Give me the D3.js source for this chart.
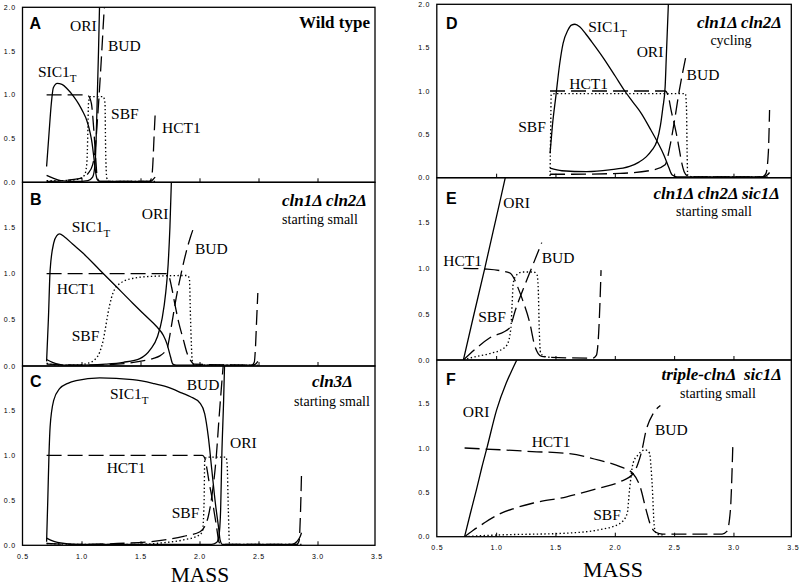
<!DOCTYPE html>
<html><head><meta charset="utf-8">
<script src="https://cdn.jsdelivr.net/npm/d3@7"></script>
<style>body{margin:0;background:#fff} svg{display:block} text{fill:#000}</style>
</head><body><svg id="c" width="800" height="587"></svg>
<script>
// ---------------- DATA ----------------
const massTicks = [0.5, 1.0, 1.5, 2.0, 2.5, 3.0, 3.5];
const valueTicksTop = [0, 0.5, 1.0, 1.5, 2.0];
const valueTicks = [0, 0.5, 1.0, 1.5];
const panelLetters = ["A", "B", "C", "D", "E", "F"];
const panelTitles = ["Wild type", "cln1Δ cln2Δ", "cln3Δ", "cln1Δ cln2Δ", "cln1Δ cln2Δ sic1Δ", "triple-clnΔ  sic1Δ"];
const panelSubtitles = ["", "starting small", "starting small", "cycling", "starting small", "starting small"];

// Panel A: wild type  [mass, value]
const sic1A = [[0.70,0.18],[0.72,0.55],[0.74,0.9],[0.757,1.08],[0.79,1.13],[0.83,1.12],[0.88,1.06],[0.93,0.98],[0.97,0.90],[1.01,0.80],[1.04,0.71],[1.07,0.56],[1.085,0.45],[1.10,0.29],[1.115,0.12],[1.13,0.03],[1.15,0.01],[1.58,0.01],[1.60,0.03],[1.62,0.06]];
const oriA = [[0.70,0.08],[0.75,0.05],[0.82,0.02],[0.95,0.01],[1.05,0.02],[1.09,0.06],[1.11,0.2],[1.12,0.5],[1.13,1.0],[1.14,1.5],[1.15,2.1]];
const hct1A = [[0.70,1.0],[1.04,1.0],[1.06,0.98],[1.08,0.9],[1.10,0.6],[1.115,0.3],[1.13,0.05],[1.15,0.01],[1.57,0.01],[1.59,0.05],[1.60,0.2],[1.61,0.5],[1.62,0.78]];
const budA = [[0.70,0.01],[0.85,0.02],[1.0,0.05],[1.05,0.1],[1.09,0.2],[1.11,0.35],[1.13,0.7],[1.15,1.1],[1.17,1.55],[1.19,2.0],[1.20,2.1]];
const sbfA = [[0.70,0.02],[0.85,0.02],[0.98,0.04],[1.02,0.08],[1.04,0.2],[1.05,0.6],[1.055,0.9],[1.07,0.98],[1.18,0.98],[1.195,0.9],[1.20,0.4],[1.21,0.05],[1.23,0.01],[1.62,0.01]];
const labelsA = [["ORI",0.898,1.79],["BUD",1.22,1.56],["SIC1",0.627,1.27],["SBF",1.246,0.79],["HCT1",1.678,0.63]];

// Panel B: cln1Δ cln2Δ starting small
const sic1B = [[0.70,0.05],[0.715,0.5],[0.73,1.04],[0.76,1.33],[0.785,1.41],[0.81,1.43],[0.85,1.40],[0.92,1.32],[1.01,1.22],[1.15,1.04],[1.29,0.86],[1.43,0.68],[1.55,0.53],[1.63,0.43],[1.69,0.33],[1.72,0.24],[1.75,0.10],[1.77,0.02],[1.80,0.01],[2.44,0.01],[2.47,0.02],[2.49,0.05]];
const oriB = [[0.70,0.07],[0.75,0.04],[0.85,0.01],[1.0,0.01],[1.2,0.02],[1.35,0.04],[1.49,0.08],[1.58,0.18],[1.64,0.32],[1.68,0.52],[1.71,0.8],[1.73,1.1],[1.745,1.5],[1.76,2.1]];
const hct1B = [[0.70,1.0],[1.72,1.0],[1.74,0.96],[1.76,0.85],[1.79,0.65],[1.82,0.47],[1.86,0.28],[1.89,0.14],[1.92,0.06],[1.95,0.02],[2.44,0.01],[2.46,0.04],[2.47,0.2],[2.48,0.5],[2.49,0.79]];
const budB = [[0.70,0.02],[1.0,0.01],[1.3,0.02],[1.49,0.05],[1.6,0.08],[1.66,0.11],[1.70,0.15],[1.72,0.18],[1.74,0.3],[1.76,0.45],[1.80,0.75],[1.84,1.0],[1.88,1.22],[1.92,1.4],[1.95,1.51]];
const sbfB = [[0.70,0.03],[0.80,0.01],[0.95,0.01],[1.05,0.03],[1.10,0.06],[1.15,0.15],[1.18,0.28],[1.20,0.42],[1.22,0.57],[1.25,0.74],[1.28,0.84],[1.33,0.9],[1.40,0.94],[1.58,0.97],[1.89,0.98],[1.91,0.95],[1.92,0.5],[1.935,0.05],[1.95,0.01],[2.49,0.01]];
const labelsB = [["ORI",1.506,1.654],["SIC1",0.913,1.506],["BUD",1.958,1.276],["HCT1",0.786,0.843],["SBF",0.913,0.335]];

// Panel C: cln3Δ starting small
const sic1C = [[0.70,0.04],[0.71,0.5],[0.72,1.0],[0.73,1.32],[0.76,1.61],[0.81,1.74],[0.88,1.80],[0.95,1.83],[1.15,1.86],[1.43,1.84],[1.60,1.80],[1.72,1.76],[1.85,1.69],[1.92,1.65],[2.0,1.58],[2.04,1.46],[2.07,1.21],[2.10,0.84],[2.13,0.47],[2.16,0.17],[2.17,0.06],[2.19,0.01],[2.78,0.01],[2.82,0.04],[2.85,0.1],[2.86,0.14]];
const oriC = [[0.70,0.08],[0.75,0.05],[0.85,0.02],[0.95,0.01],[2.0,0.01],[2.10,0.01],[2.14,0.03],[2.16,0.1],[2.175,0.4],[2.185,1.0],[2.20,1.6],[2.21,2.1]];
const hct1C = [[0.70,1.0],[2.02,1.0],[2.04,0.97],[2.06,0.84],[2.08,0.68],[2.10,0.54],[2.12,0.37],[2.14,0.21],[2.16,0.04],[2.18,0.01],[2.82,0.01],[2.84,0.05],[2.85,0.3],[2.86,0.78]];
const budC = [[0.70,0.02],[1.0,0.01],[1.3,0.02],[1.58,0.04],[1.86,0.10],[2.0,0.15],[2.04,0.21],[2.07,0.32],[2.10,0.54],[2.14,1.02],[2.16,1.39],[2.18,1.73],[2.20,2.05]];
const sbfC = [[0.70,0.02],[1.0,0.01],[1.43,0.01],[1.7,0.03],[1.86,0.06],[1.99,0.11],[2.02,0.15],[2.035,0.5],[2.04,0.95],[2.06,0.98],[2.22,0.98],[2.23,0.9],[2.24,0.4],[2.25,0.02],[2.28,0.01],[2.86,0.01]];
const labelsC = [["BUD",1.887,1.79],["SIC1",1.237,1.69],["ORI",2.254,1.137],["HCT1",1.209,0.87],["SBF",1.76,0.36]];

// Panel D: cln1Δ cln2Δ cycling
const sic1D = [[1.45,0.28],[1.47,0.6],[1.50,0.95],[1.53,1.3],[1.56,1.55],[1.60,1.70],[1.63,1.76],[1.66,1.77],[1.70,1.74],[1.75,1.66],[1.80,1.57],[1.90,1.38],[2.0,1.17],[2.08,1.0],[2.15,0.87],[2.22,0.74],[2.30,0.55],[2.36,0.40],[2.41,0.26],[2.45,0.12],[2.48,0.03],[2.52,0.01],[3.25,0.01],[3.28,0.03],[3.30,0.06]];
const oriD = [[1.45,0.11],[1.55,0.08],[1.76,0.07],[1.95,0.09],[2.12,0.13],[2.20,0.18],[2.26,0.24],[2.31,0.32],[2.35,0.42],[2.38,0.6],[2.40,0.8],[2.42,1.05],[2.43,1.4],[2.45,2.1]];
const hct1D = [[1.45,1.0],[2.42,1.0],[2.45,0.92],[2.47,0.78],[2.50,0.6],[2.52,0.47],[2.54,0.32],[2.56,0.17],[2.58,0.07],[2.61,0.02],[2.65,0.01],[3.24,0.01],[3.27,0.05],[3.29,0.3],[3.30,0.78]];
const budD = [[1.45,0.04],[1.6,0.04],[2.04,0.05],[2.32,0.09],[2.42,0.15],[2.46,0.36],[2.50,0.67],[2.54,1.01],[2.57,1.23],[2.60,1.43]];
const sbfD = [[1.45,0.02],[1.455,0.5],[1.46,0.96],[1.50,0.97],[2.59,0.97],[2.60,0.8],[2.605,0.3],[2.61,0.03],[2.65,0.01],[3.30,0.01]];
const labelsD = [["SIC1",1.772,1.742],["ORI",2.18,1.453],["BUD",2.601,1.185],["HCT1",1.612,1.089],["SBF",1.182,0.588]];

// Panel E: cln1Δ cln2Δ sic1Δ starting small
const oriE = [[0.72,0.0],[0.80,0.45],[0.90,1.0],[0.97,1.4],[1.03,1.74],[1.08,2.03]];
const hct1E = [[0.72,1.0],[0.92,0.99],[1.11,0.95],[1.15,0.88],[1.17,0.82],[1.22,0.65],[1.28,0.40],[1.32,0.16],[1.35,0.07],[1.38,0.04],[1.45,0.03],[1.81,0.02],[1.84,0.05],[1.86,0.3],[1.87,0.6],[1.88,0.98]];
const budE = [[0.72,0.0],[0.94,0.24],[1.11,0.35],[1.13,0.42],[1.15,0.51],[1.22,0.76],[1.30,1.02],[1.38,1.28]];
const sbfE = [[0.72,0.0],[0.80,0.03],[0.94,0.07],[1.05,0.12],[1.09,0.17],[1.12,0.35],[1.13,0.6],[1.14,0.84],[1.17,0.93],[1.22,0.96],[1.31,0.96],[1.34,0.93],[1.35,0.8],[1.36,0.3],[1.37,0.08],[1.40,0.04],[1.45,0.03]];
const labelsE = [["ORI",1.056,1.715],["BUD",1.38,1.12],["HCT1",0.55,1.09],["SBF",0.845,0.472]];

// Panel F: triple-clnΔ sic1Δ starting small
const oriF = [[0.73,0.0],[0.78,0.27],[0.83,0.53],[0.875,0.78],[0.92,1.01],[1.0,1.43],[1.08,1.73],[1.13,1.88],[1.18,2.02]];
const hct1F = [[0.73,1.0],[1.03,0.98],[1.30,0.96],[1.59,0.94],[1.87,0.86],[2.04,0.79],[2.15,0.71],[2.21,0.56],[2.26,0.30],[2.30,0.12],[2.34,0.05],[2.40,0.03],[2.90,0.03],[2.94,0.06],[2.97,0.3],[2.99,1.01]];
const budF = [[0.73,0.0],[0.80,0.07],[0.89,0.15],[0.96,0.21],[1.03,0.26],[1.15,0.32],[1.31,0.38],[1.59,0.45],[1.87,0.55],[2.04,0.62],[2.15,0.71],[2.19,0.82],[2.22,0.95],[2.26,1.20],[2.32,1.39],[2.38,1.48]];
const sbfF = [[0.73,0.0],[0.85,0.01],[1.03,0.02],[1.59,0.04],[1.87,0.08],[2.04,0.15],[2.10,0.26],[2.12,0.53],[2.15,0.83],[2.19,0.92],[2.25,0.98],[2.29,0.94],[2.30,0.8],[2.31,0.6],[2.33,0.1],[2.35,0.03],[2.40,0.02]];
const labelsF = [["ORI",0.714,1.409],["HCT1",1.295,1.071],["BUD",2.334,1.203],["SBF",1.814,0.245]];

// ---------------- LAYOUT ----------------
const svg = d3.select("#c");
const serif = "'Liberation Serif','Times New Roman',serif";
const sans = "'Liberation Sans',Arial,sans-serif";

const xLeft = d3.scaleLinear().domain([0.5, 3.5]).range([23, 377]);
const xRight = d3.scaleLinear().domain([0.5, 3.5]).range([437.3, 793.3]);

const SOLID = null, DASH = "15,6", DOT = "1.4,2.4";

const panels = [
  {x: xLeft, bottom: 182.3, top: 7.3, yTop: 7.3, ticks: valueTicksTop,
   series: [[sic1A,SOLID],[oriA,SOLID],[hct1A,DASH],[budA,DASH],[sbfA,DOT]], labels: labelsA,
   letter: [29.5, 28.5], title: {x: 370, y: 28, a: "end", bi: false}, sub: null},
  {x: xLeft, bottom: 366, top: 181.3, yTop: 182.3, ticks: valueTicks,
   series: [[sic1B,SOLID],[oriB,SOLID],[hct1B,DASH],[budB,DASH],[sbfB,DOT]], labels: labelsB,
   letter: [30, 205], title: {x: 367, y: 206, a: "end", bi: true}, sub: {x: 320, y: 223.5}},
  {x: xLeft, bottom: 545.3, top: 365.3, yTop: 366, ticks: valueTicks,
   series: [[sic1C,SOLID],[oriC,SOLID],[hct1C,DASH],[budC,DASH],[sbfC,DOT]], labels: labelsC,
   letter: [30, 387], title: {x: 332.5, y: 386.5, a: "middle", bi: true}, sub: {x: 332, y: 405.5}},
  {x: xRight, bottom: 177.7, top: 4.3, yTop: 4.3, ticks: valueTicksTop,
   series: [[sic1D,SOLID],[oriD,SOLID],[hct1D,DASH],[budD,DASH],[sbfD,DOT]], labels: labelsD,
   letter: [446, 28.5], title: {x: 782, y: 27.5, a: "end", bi: true}, sub: {x: 731, y: 44.5}},
  {x: xRight, bottom: 360, top: 176.6, yTop: 177.7, ticks: valueTicks,
   series: [[oriE,SOLID],[hct1E,DASH],[budE,DASH],[sbfE,DOT]], labels: labelsE,
   letter: [446, 203.5], title: {x: 780, y: 199, a: "end", bi: true}, sub: {x: 714, y: 216}},
  {x: xRight, bottom: 536.7, top: 359.3, yTop: 360, ticks: valueTicks,
   series: [[oriF,SOLID],[hct1F,DASH],[budF,DASH],[sbfF,DOT]], labels: labelsF,
   letter: [446, 385], title: {x: 782, y: 379.5, a: "end", bi: true}, sub: {x: 718, y: 398}}
];

panels.forEach((p, i) => {
  const x = p.x;
  const y = d3.scaleLinear().domain([0, 2]).range([p.bottom, p.top]);
  const left = x(0.5) - 0.5, right = x(3.5) - 2;
  const g = svg.append("g");
  const cid = "clip" + i;
  svg.append("clipPath").attr("id", cid).append("rect")
    .attr("x", left).attr("y", p.yTop).attr("width", right - left).attr("height", p.bottom - p.yTop);

  // frame
  g.append("rect").attr("x", left).attr("y", p.yTop).attr("width", right - left)
    .attr("height", p.bottom - p.yTop).attr("fill", "none").attr("stroke", "#000").attr("stroke-width", 1.3);

  // y tick labels
  g.selectAll(".yt").data(p.ticks).join("text")
    .attr("x", left - 6.5).attr("y", d => y(d) + 2.5)
    .attr("text-anchor", "end").attr("font-family", sans).attr("font-size", 7)
    .attr("letter-spacing", 0.8)
    .text(d => d3.format(".1f")(d));

  // bottom ticks (inward)
  g.selectAll(".xt").data(massTicks.slice(1, -1)).join("line")
    .attr("x1", d => x(d)).attr("x2", d => x(d))
    .attr("y1", p.bottom).attr("y2", p.bottom - 4)
    .attr("stroke", "#000").attr("stroke-width", 1);

  // curves
  const line = d3.line().x(d => x(d[0])).y(d => y(d[1])).curve(d3.curveMonotoneX);
  const cg = g.append("g").attr("clip-path", `url(#${cid})`);
  p.series.forEach(([data, dash]) => {
    cg.append("path").attr("d", line(data)).attr("fill", "none")
      .attr("stroke", "#000").attr("stroke-width", dash === DOT ? 1.35 : 1.3)
      .attr("stroke-dasharray", dash);
  });

  // series labels
  p.labels.forEach(([name, m, v]) => {
    const t = g.append("text").attr("x", x(m)).attr("y", y(v) + 5.5)
      .attr("font-family", serif).attr("font-size", 15.5);
    t.append("tspan").text(name);
    if (name === "SIC1") t.append("tspan").attr("font-size", 11).attr("dy", 5).text("T");
  });

  // panel letter
  g.append("text").attr("x", p.letter[0]).attr("y", p.letter[1])
    .attr("font-family", sans).attr("font-weight", "bold").attr("font-size", 16)
    .text(panelLetters[i]);

  // title
  g.append("text").attr("x", p.title.x).attr("y", p.title.y)
    .attr("text-anchor", p.title.a).attr("font-family", serif)
    .attr("font-weight", "bold").attr("font-style", p.title.bi ? "italic" : "normal")
    .attr("font-size", 17).style("white-space", "pre")
    .text(panelTitles[i]);
  if (p.sub) {
    g.append("text").attr("x", p.sub.x).attr("y", p.sub.y).attr("text-anchor", "middle")
      .attr("font-family", serif).attr("font-size", 14).text(panelSubtitles[i]);
  }
});

// x tick labels below bottom panels
[[xLeft, 559], [xRight, 550]].forEach(([x, yy]) => {
  svg.append("g").selectAll("text").data(massTicks).join("text")
    .attr("x", d => x(d)).attr("y", yy).attr("text-anchor", "middle")
    .attr("font-family", sans).attr("font-size", 7).attr("letter-spacing", 0.8)
    .text(d => d3.format(".1f")(d));
});

// axis titles
svg.append("text").attr("x", 200).attr("y", 582).attr("text-anchor", "middle")
  .attr("font-family", serif).attr("font-size", 21.5).text("MASS");
svg.append("text").attr("x", 613).attr("y", 577).attr("text-anchor", "middle")
  .attr("font-family", serif).attr("font-size", 22).text("MASS");
</script></body></html>
